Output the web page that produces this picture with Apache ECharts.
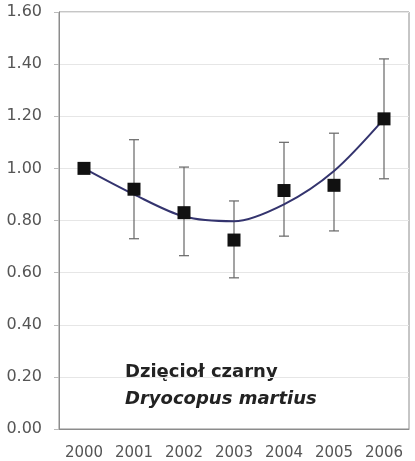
<!DOCTYPE html>
<html>
<head>
<meta charset="utf-8">
<script src="https://cdn.jsdelivr.net/npm/echarts@6/dist/echarts.min.js"></script>
<style>
  html, body { margin: 0; padding: 0; background: #fff; }
  #chart { width: 415px; height: 461px; }
</style>
</head>
<body>
<div id="chart"></div>
<script>
// values
const years = ['2000', '2001', '2002', '2003', '2004', '2005', '2006'];
const index = [1.00, 0.92, 0.83, 0.725, 0.915, 0.935, 1.19];
const errLow = [1.00, 0.73, 0.665, 0.58, 0.74, 0.76, 0.96];
const errHigh = [1.00, 1.11, 1.005, 0.875, 1.10, 1.135, 1.42];
const trend = [1.00, 0.90, 0.815, 0.797, 0.862, 0.99, 1.19];

const chart = echarts.init(document.getElementById('chart'));

const option = {
  animation: false,
  backgroundColor: '#fff',
  grid: {
    left: 59, right: 6, top: 12, bottom: 29,
    show: true,
    borderColor: '#8c8c8c',
    borderWidth: 1
  },
  xAxis: {
    type: 'category',
    data: years,
    boundaryGap: true,
    axisLine: { lineStyle: { color: '#8c8c8c' } },
    axisTick: { show: false },
    axisLabel: { color: '#555', fontSize: 15, margin: 17, fontFamily: 'DejaVu Sans' }
  },
  yAxis: {
    type: 'value',
    min: 0, max: 1.6, interval: 0.2,
    axisLine: { show: true, lineStyle: { color: '#8c8c8c' } },
    axisTick: { show: true, length: 5, lineStyle: { color: '#bbb' } },
    splitLine: { lineStyle: { color: '#e6e6e6' } },
    axisLabel: {
      color: '#555', fontSize: 16, margin: 17, fontFamily: 'DejaVu Sans',
      formatter: v => v.toFixed(2)
    }
  },
  series: [
    {
      type: 'custom',
      z: 2,
      renderItem: (params, api) => {
        const x = api.value(0);
        const lo = api.coord([x, api.value(1)]);
        const hi = api.coord([x, api.value(2)]);
        const w = 5;
        const style = { stroke: '#666', lineWidth: 1.2 };
        return {
          type: 'group',
          children: [
            { type: 'line', shape: { x1: hi[0], y1: hi[1], x2: lo[0], y2: lo[1] }, style },
            { type: 'line', shape: { x1: hi[0] - w, y1: hi[1], x2: hi[0] + w, y2: hi[1] }, style },
            { type: 'line', shape: { x1: lo[0] - w, y1: lo[1], x2: lo[0] + w, y2: lo[1] }, style }
          ]
        };
      },
      data: years.map((y, i) => [i, errLow[i], errHigh[i]])
    },
    {
      type: 'line',
      z: 3,
      data: trend,
      smooth: 0.3,
      showSymbol: false,
      lineStyle: { color: '#34346e', width: 2 }
    },
    {
      type: 'scatter',
      z: 4,
      data: index,
      symbol: 'rect',
      symbolSize: 13,
      itemStyle: { color: '#111', opacity: 1 }
    }
  ],
  graphic: [
    {
      type: 'text', left: 125, top: 363,
      style: { text: 'Dzięcioł czarny', fill: '#222', font: 'bold 18px "DejaVu Sans"' }
    },
    {
      type: 'text', left: 125, top: 390,
      style: { text: 'Dryocopus martius', fill: '#222', font: 'italic bold 18px "DejaVu Sans"' }
    }
  ]
};

chart.setOption(option);
</script>
</body>
</html>
